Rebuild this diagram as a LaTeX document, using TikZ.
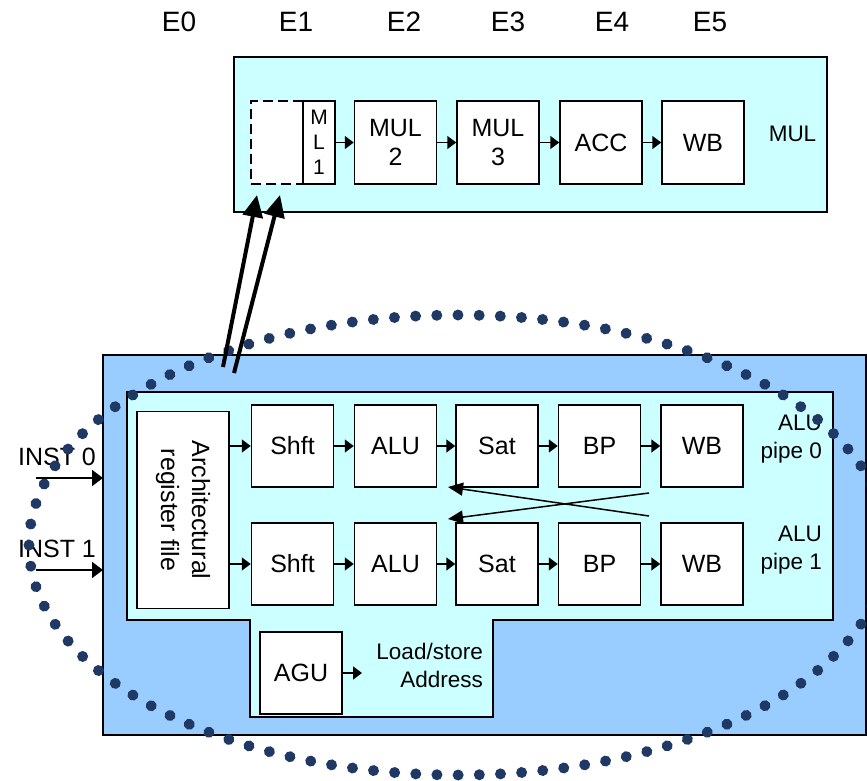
\documentclass[tikz,border=0pt]{standalone}
\usepackage{fontspec}
\setmainfont{Liberation Sans}
\usetikzlibrary{arrows.meta,decorations.markings}
\definecolor{cyanbg}{HTML}{CCFFFF}
\definecolor{bluebg}{HTML}{99CCFF}
\definecolor{dotc}{HTML}{1F3864}
\begin{document}
\begin{tikzpicture}[x=1pt,y=-1pt,
  box/.style={draw=black, line width=1.5pt, fill=white, minimum width=82pt,
    minimum height=82pt, inner sep=0pt, font=\fontsize{25}{29}\selectfont, align=center},
  arr/.style={line width=1.6pt, -{Triangle[length=9pt,width=13pt]}},
  crossarr/.style={line width=1.5pt, -{Triangle[length=15pt,width=13pt]}},
  instarr/.style={line width=1.8pt, -{Triangle[length=11pt,width=16pt]}},
  thickarr/.style={line width=4pt, -{Triangle[length=22pt,width=20pt]}},
  stagelbl/.style={font=\fontsize{28}{32}\selectfont, anchor=base, inner sep=0pt},
  sidelbl/.style={font=\fontsize{22.5}{28}\selectfont, align=right, anchor=base east, inner sep=0pt},
  instlbl/.style={font=\fontsize{25}{29}\selectfont, anchor=base, inner sep=0pt},
  panel/.style={draw=black, line width=1.5pt},
  dots/.style={postaction={decorate}, decoration={markings,
    mark=between positions 0 and 1 step 21.17pt with {\fill[dotc] (0pt,0pt) circle [radius=5.5pt];}}}
]
\useasboundingbox (0,0) rectangle (867,781);
\clip (0,0) rectangle (867,781);

% stage labels
\node[stagelbl] (e0) at (179,32) {E0};
\node[stagelbl] (e1) at (296,32) {E1};
\node[stagelbl] (e2) at (404,32) {E2};
\node[stagelbl] (e3) at (508,32) {E3};
\node[stagelbl] (e4) at (612,32) {E4};
\node[stagelbl] (e5) at (710,32) {E5};

% MUL panel
\draw[panel, fill=cyanbg] (234,57) rectangle (827,212);
\node[box, dashed, dash pattern=on 10pt off 5pt, minimum width=52pt, minimum height=83pt] (ml0) at (277,142.5) {};
\node[box, minimum width=32pt, minimum height=83pt, font=\fontsize{21}{25}\selectfont] (ml1) at (319,142.5) {M\\L\\1};
\node[box, minimum height=83pt] (mul2) at (395.5,142.5) {MUL\\2};
\node[box, minimum height=83pt] (mul3) at (498,142.5) {MUL\\3};
\node[box, minimum height=83pt] (acc) at (601,142.5) {ACC};
\node[box, minimum height=83pt] (mwb) at (703,142.5) {WB};
\node[sidelbl, anchor=base] (mullbl) at (792.5,142) {MUL};
\draw[arr] (ml1.east) -- (mul2.west);
\draw[arr] (mul2.east) -- (mul3.west);
\draw[arr] (mul3.east) -- (acc.west);
\draw[arr] (acc.east) -- (mwb.west);

% ALU panel
\draw[panel, fill=bluebg] (103,355) rectangle (866,735);
\draw[panel, fill=cyanbg] (127,392) -- (833,392) -- (833,620) -- (493,620) -- (493,717)
  -- (250,717) -- (250,620) -- (127,620) -- cycle;

\node[box, minimum width=92pt, minimum height=197pt] (arf) at (183,510) {};
\node[rotate=-90, align=center, font=\fontsize{25}{31}\selectfont, inner sep=0pt] (arftext) at (arf.center) {Architectural\\register file};

\node[box] (sh0) at (292.5,446) {Shft};
\node[box] (alu0) at (395.5,446) {ALU};
\node[box] (sat0) at (497,446) {Sat};
\node[box] (bp0) at (599.5,446) {BP};
\node[box] (wb0) at (702,446) {WB};
\node[box] (sh1) at (292.5,564) {Shft};
\node[box] (alu1) at (395.5,564) {ALU};
\node[box] (sat1) at (497,564) {Sat};
\node[box] (bp1) at (599.5,564) {BP};
\node[box] (wb1) at (702,564) {WB};

\draw[arr] (arf.east |- sh0) -- (sh0.west);
\draw[arr] (sh0.east) -- (alu0.west);
\draw[arr] (alu0.east) -- (sat0.west);
\draw[arr] (sat0.east) -- (bp0.west);
\draw[arr] (bp0.east) -- (wb0.west);
\draw[arr] (arf.east |- sh1) -- (sh1.west);
\draw[arr] (sh1.east) -- (alu1.west);
\draw[arr] (alu1.east) -- (sat1.west);
\draw[arr] (sat1.east) -- (bp1.west);
\draw[arr] (bp1.east) -- (wb1.west);

\node[sidelbl] (pipe0) at (822,458) {ALU\\pipe 0};
\node[sidelbl] (pipe1) at (822,569) {ALU\\pipe 1};

% bypass cross
\coordinate (fb0) at (649,516);
\coordinate (to0) at (448,487);
\coordinate (fb1) at (649,493);
\coordinate (to1) at (448,519);
\draw[crossarr] (fb0) -- (to0);
\draw[crossarr] (fb1) -- (to1);

% AGU
\node[box] (agu) at (301,673) {AGU};
\coordinate (aguout) at (362,673);
\draw[arr] (agu.east) -- (aguout);
\node[sidelbl] (ls) at (483,687) {Load/store\\Address};

% inputs
\node[instlbl] (inst0) at (57,465) {INST 0};
\node[instlbl] (inst1) at (57,557) {INST 1};
\coordinate (in0) at (36,478);
\coordinate (in1) at (36,570);
\coordinate (in0e) at (103,478);
\coordinate (in1e) at (103,570);
\draw[instarr] (in0) -- (in0e);
\draw[instarr] (in1) -- (in1e);

% dotted ellipse
\path[dots] (458,545) ellipse [x radius=429pt, y radius=230pt];

% thick arrows to MUL
\coordinate (ta0) at (223,367);
\coordinate (tb0) at (257,195);
\coordinate (ta1) at (234,373);
\coordinate (tb1) at (280,195);
\draw[thickarr] (ta0) -- (tb0);
\draw[thickarr] (ta1) -- (tb1);
\end{tikzpicture}
\end{document}
